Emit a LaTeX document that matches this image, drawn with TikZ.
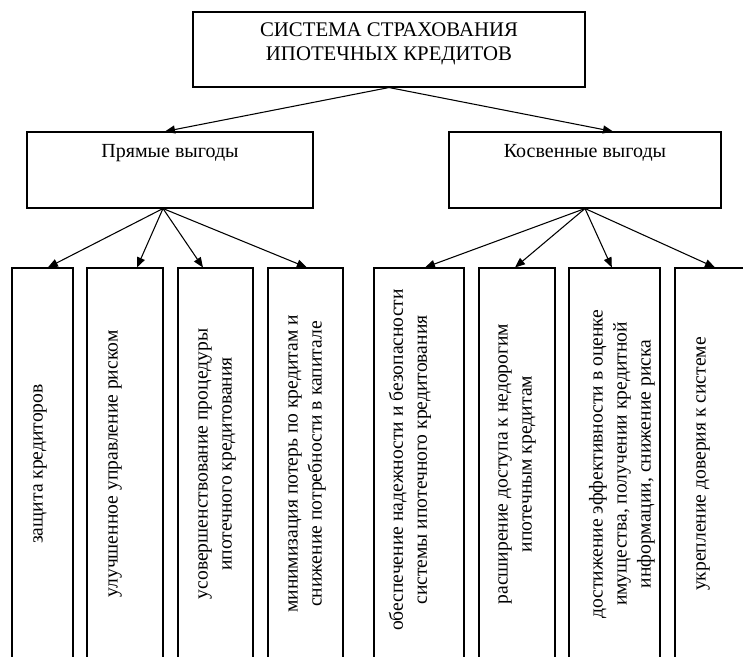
\documentclass[tikz,border=0pt]{standalone}
\usepackage{fontspec}
\setmainfont{Liberation Serif}
\usetikzlibrary{arrows.meta,fit}

\tikzset{
  box/.style={draw, line width=0.8pt, inner sep=0pt},
  txt/.style={align=center, inner sep=0pt, font=\fontsize{15}{18}\selectfont},
  vtxt/.style={txt, rotate=90, font=\fontsize{14.7}{18}\selectfont},
  link/.style={line width=0.8pt, -{Triangle[length=7.5pt,width=6pt]}},
}

\begin{document}
\begin{tikzpicture}[x=0.75pt, y=-0.75pt]
    \useasboundingbox (0,0) rectangle (743,657);
    \clip (0,0) rectangle (743,657);

    \node[box, fit={(193,12) (585,87)}] (sys) {};
    \node[txt, font=\fontsize{15.6}{18}\selectfont] (syst) at (389,44) {СИСТЕМА СТРАХОВАНИЯ\\ИПОТЕЧНЫХ КРЕДИТОВ};

    \node[box, fit={(27,132) (313,208)}] (pl) {};
    \node[txt, anchor=base] (plt) at (170,157) {Прямые выгоды};
    \node[box, fit={(449,132) (721,208)}] (pr) {};
    \node[txt, anchor=base] (prt) at (585,157) {Косвенные выгоды};

    \node[box, fit={(12,268) (73,660)}] (b1) {};
    \node[box, fit={(87,268) (163,660)}] (b2) {};
    \node[box, fit={(178,268) (253,660)}] (b3) {};
    \node[box, fit={(268,268) (343,660)}] (b4) {};
    \node[box, fit={(374,268) (464,660)}] (b5) {};
    \node[box, fit={(479,268) (555,660)}] (b6) {};
    \node[box, fit={(569,268) (660,660)}] (b7) {};
    \node[box, fit={(675,268) (751,660)}] (b8) {};

    \node[vtxt] (b1t) at (40,464) {защита кредиторов};
    \node[vtxt] (b2t) at (115,464) {улучшенное управление риском};
    \node[vtxt] (b3t) at (217,464) {усовершенствование процедуры\\ипотечного кредитования};
    \node[vtxt] (b4t) at (307,464) {минимизация потерь по кредитам и\\снижение потребности в капитале};
    \node[vtxt] (b5t) at (410,460) {обеспечение надежности и безопасности\\системы ипотечного кредитования};
    \node[vtxt] (b6t) at (517,464) {расширение доступа к недорогим\\ипотечным кредитам};
    \node[vtxt] (b7t) at (622,464) {достижение эффективности в оценке\\имущества, получении кредитной\\информации, снижение риска};
    \node[vtxt] (b8t) at (703,464) {укрепление доверия к системе};

    \draw[link] (sys.south) -- ([xshift=-3.75pt]pl.north);
    \draw[link] (sys.south) -- ([xshift=21pt]pr.north);

    \draw[link] ([xshift=-5.25pt]pl.south) -- ([xshift=4pt]b1.north);
    \draw[link] ([xshift=-5.25pt]pl.south) -- ([xshift=9pt]b2.north);
    \draw[link] ([xshift=-5.25pt]pl.south) -- ([xshift=-9.4pt]b3.north);
    \draw[link] ([xshift=-5.25pt]pl.south) -- ([xshift=1pt]b4.north);

    \draw[link] (pr.south) -- ([xshift=4.5pt]b5.north);
    \draw[link] (pr.south) -- ([xshift=-1.5pt]b6.north);
    \draw[link] (pr.south) -- ([xshift=-2pt]b7.north);
    \draw[link] (pr.south) -- ([xshift=1.5pt]b8.north);
\end{tikzpicture}
\end{document}
